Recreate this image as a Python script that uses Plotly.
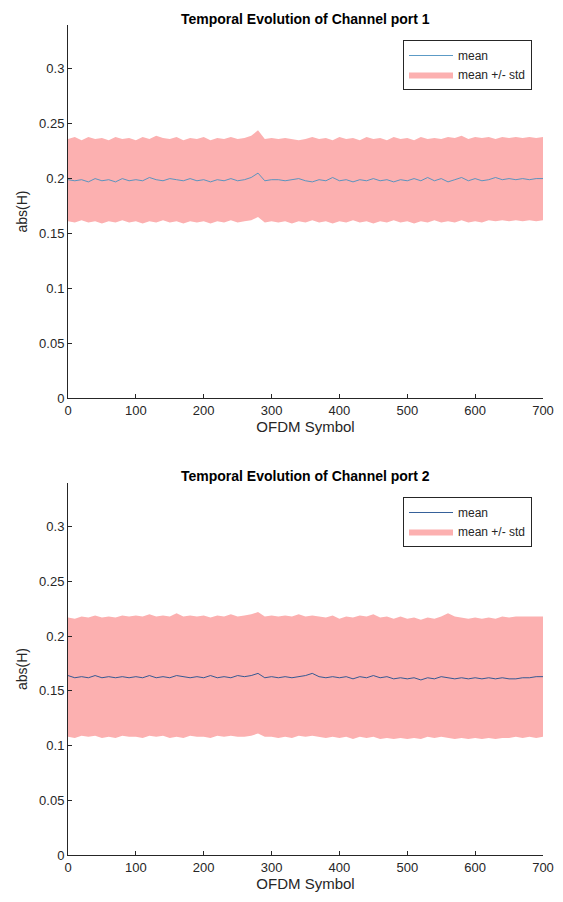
import plotly.graph_objects as go

symbols = list(range(0, 701, 10))

top_mean = [0.199, 0.198, 0.199, 0.197, 0.200, 0.198, 0.199, 0.197, 0.200, 0.198,
            0.199, 0.198, 0.201, 0.199, 0.198, 0.200, 0.199, 0.198, 0.200, 0.198,
            0.199, 0.197, 0.199, 0.198, 0.200, 0.198, 0.199, 0.201, 0.205, 0.198,
            0.199, 0.199, 0.198, 0.199, 0.200, 0.198, 0.197, 0.199, 0.198, 0.201,
            0.198, 0.199, 0.197, 0.199, 0.198, 0.200, 0.198, 0.199, 0.197, 0.199,
            0.198, 0.200, 0.198, 0.201, 0.198, 0.200, 0.197, 0.199, 0.201, 0.198,
            0.200, 0.198, 0.199, 0.201, 0.199, 0.200, 0.199, 0.200, 0.199, 0.200,
            0.200]
top_upper = [0.236, 0.238, 0.235, 0.238, 0.236, 0.237, 0.235, 0.238, 0.236, 0.237,
             0.235, 0.238, 0.236, 0.239, 0.237, 0.236, 0.238, 0.235, 0.237, 0.236,
             0.238, 0.235, 0.237, 0.236, 0.238, 0.236, 0.237, 0.239, 0.244, 0.236,
             0.237, 0.236, 0.237, 0.236, 0.235, 0.236, 0.238, 0.236, 0.237, 0.235,
             0.238, 0.236, 0.237, 0.235, 0.238, 0.236, 0.237, 0.235, 0.238, 0.236,
             0.237, 0.235, 0.238, 0.236, 0.237, 0.236, 0.238, 0.237, 0.239, 0.236,
             0.238, 0.237, 0.238, 0.236, 0.238, 0.237, 0.238, 0.237, 0.238, 0.237,
             0.238]
top_lower = [0.161, 0.160, 0.162, 0.160, 0.161, 0.159, 0.161, 0.160, 0.162, 0.160,
             0.161, 0.159, 0.161, 0.160, 0.162, 0.160, 0.161, 0.159, 0.161, 0.160,
             0.161, 0.159, 0.161, 0.160, 0.162, 0.160, 0.161, 0.162, 0.165, 0.160,
             0.161, 0.160, 0.161, 0.159, 0.161, 0.160, 0.162, 0.160, 0.161, 0.159,
             0.161, 0.160, 0.162, 0.160, 0.161, 0.159, 0.161, 0.160, 0.162, 0.160,
             0.161, 0.159, 0.161, 0.160, 0.162, 0.160, 0.161, 0.160, 0.162, 0.160,
             0.161, 0.160, 0.162, 0.161, 0.162, 0.161, 0.162, 0.161, 0.162, 0.161,
             0.162]

bot_mean = [0.164, 0.162, 0.163, 0.162, 0.164, 0.162, 0.163, 0.162, 0.163, 0.162,
            0.163, 0.162, 0.164, 0.162, 0.163, 0.162, 0.164, 0.163, 0.162, 0.163,
            0.162, 0.164, 0.162, 0.163, 0.162, 0.164, 0.163, 0.164, 0.166, 0.162,
            0.163, 0.162, 0.163, 0.162, 0.163, 0.164, 0.166, 0.163, 0.162, 0.163,
            0.162, 0.163, 0.161, 0.163, 0.162, 0.164, 0.162, 0.163, 0.161, 0.162,
            0.161, 0.162, 0.160, 0.162, 0.161, 0.163, 0.162, 0.161, 0.162, 0.161,
            0.162, 0.161, 0.162, 0.161, 0.162, 0.161, 0.161, 0.162, 0.162, 0.163,
            0.163]
bot_upper = [0.217, 0.216, 0.218, 0.217, 0.219, 0.217, 0.218, 0.217, 0.219, 0.218,
             0.219, 0.218, 0.220, 0.218, 0.219, 0.218, 0.221, 0.218, 0.219, 0.218,
             0.219, 0.217, 0.219, 0.218, 0.220, 0.218, 0.219, 0.220, 0.222, 0.218,
             0.219, 0.218, 0.219, 0.218, 0.220, 0.218, 0.219, 0.218, 0.217, 0.219,
             0.216, 0.218, 0.217, 0.219, 0.218, 0.220, 0.217, 0.218, 0.216, 0.218,
             0.216, 0.217, 0.215, 0.217, 0.216, 0.218, 0.221, 0.218, 0.217, 0.216,
             0.217, 0.216, 0.217, 0.216, 0.218, 0.217, 0.218, 0.218, 0.218, 0.218,
             0.218]
bot_lower = [0.108, 0.107, 0.109, 0.108, 0.109, 0.107, 0.108, 0.107, 0.109, 0.108,
             0.108, 0.107, 0.109, 0.108, 0.109, 0.107, 0.108, 0.107, 0.109, 0.108,
             0.108, 0.107, 0.109, 0.108, 0.109, 0.108, 0.108, 0.109, 0.111, 0.108,
             0.108, 0.107, 0.108, 0.107, 0.109, 0.108, 0.109, 0.108, 0.107, 0.108,
             0.107, 0.108, 0.106, 0.108, 0.107, 0.108, 0.106, 0.107, 0.106, 0.107,
             0.106, 0.107, 0.106, 0.108, 0.107, 0.108, 0.107, 0.106, 0.107, 0.106,
             0.107, 0.106, 0.107, 0.106, 0.107, 0.107, 0.108, 0.107, 0.108, 0.107,
             0.108]

titles = ["Temporal Evolution of Channel port 1", "Temporal Evolution of Channel port 2"]
x_ticks = [0, 100, 200, 300, 400, 500, 600, 700]
y_ticks = [0, 0.05, 0.1, 0.15, 0.2, 0.25, 0.3]
y_tick_text = ["0", "0.05", "0.1", "0.15", "0.2", "0.25", "0.3"]

# page body has an 8px default margin; work in reference pixels minus 8
OFF = 8
W, H = 563 - OFF, 902 - OFF
band_color = "#FCB0B0"
line_colors = ["#4a90c0", "#1f4f8f"]
FAM = "Liberation Sans, Arial, sans-serif"


def px_x(p):
    return (p - OFF) / W


def px_y(p):
    return (H - (p - OFF)) / H


fig = go.Figure()
panels = [
    (top_mean, top_upper, top_lower, "x", "y", "legend"),
    (bot_mean, bot_upper, bot_lower, "x2", "y2", "legend2"),
]
for i, (m, u, l, xa, ya, lg) in enumerate(panels):
    fig.add_trace(go.Scatter(x=symbols, y=l, mode="lines", line=dict(width=0),
                             showlegend=False, hoverinfo="skip", xaxis=xa, yaxis=ya))
    fig.add_trace(go.Scatter(x=symbols, y=u, mode="lines", line=dict(width=0),
                             fill="tonexty", fillcolor=band_color, name="mean +/- std",
                             legend=lg, legendrank=2, xaxis=xa, yaxis=ya))
    fig.add_trace(go.Scatter(x=symbols, y=m, mode="lines",
                             line=dict(width=0.9, color=line_colors[i]), name="mean",
                             legend=lg, legendrank=1, xaxis=xa, yaxis=ya))

x0, x1 = px_x(68), px_x(543)
doms = [(px_y(398), px_y(25)), (px_y(855), px_y(483))]
font_ax = dict(family=FAM, size=13, color="#262626")

axis_common = dict(showline=True, linecolor="#262626", linewidth=1, ticks="inside",
                   ticklen=4, tickcolor="#262626", showgrid=False, zeroline=False,
                   tickfont=font_ax, mirror=False, automargin=False)
for i, key in enumerate(["", "2"]):
    fig.update_layout(**{
        "xaxis" + key: dict(axis_common, domain=[x0, x1], range=[0, 700],
                            tickvals=x_ticks, anchor="y" + key,
                            title=dict(text="OFDM Symbol", font=dict(font_ax, size=15), standoff=2)),
        "yaxis" + key: dict(axis_common, domain=list(doms[i]), range=[0, 0.34],
                            tickvals=y_ticks, ticktext=y_tick_text, anchor="x" + key,
                            title=dict(text="abs(H)", font=dict(font_ax, size=14), standoff=8)),
    })

leg_common = dict(bgcolor="white", bordercolor="#262626", borderwidth=1,
                  font=dict(family=FAM, size=12, color="#262626"),
                  xanchor="left", yanchor="top", tracegroupgap=0, itemwidth=44,
                  traceorder="normal")
fig.update_layout(
    legend=dict(leg_common, x=px_x(403), y=px_y(40)),
    legend2=dict(leg_common, x=px_x(403), y=px_y(497)),
)

for txt, ypx in zip(titles, [9, 466]):
    fig.add_annotation(text="<b>" + txt + "</b>", x=(x0 + x1) / 2, y=px_y(ypx),
                       xref="paper", yref="paper", showarrow=False, yanchor="top",
                       font=dict(family=FAM, size=14, color="black"))

fig.update_layout(width=W, height=H, margin=dict(l=0, r=0, t=0, b=0),
                  plot_bgcolor="white", paper_bgcolor="white")
fig.write_html("out.html")
